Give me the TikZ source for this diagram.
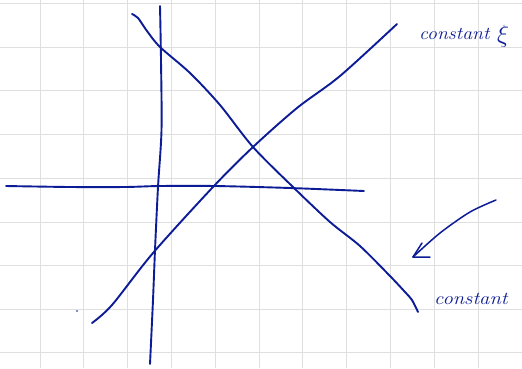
\documentclass[tikz,border=0pt]{standalone}
\begin{document}
\begin{tikzpicture}[x=1pt,y=-1pt,
  ink/.style={draw=inkblue,line width=1.9pt,line cap=round,line join=round},
  gridline/.style={draw=gray!25,line width=0.9pt},
  hand/.style={text=inkblue,font=\fontsize{18}{18}\selectfont\itshape,inner sep=0pt}]
\definecolor{inkblue}{RGB}{12,28,150}
\useasboundingbox (0,0) rectangle (522,368);
\fill[white] (0,0) rectangle (522,368);
% grid
\foreach \gx in {40,83.8,127.6,171.4,215.2,259,302.8,346.6,390.4,434.2,478}
  \draw[gridline] (\gx,0) -- (\gx,368);
\foreach \gy in {3.5,47,90.5,134,178,222,265.5,309,352.5}
  \draw[gridline] (0,\gy) -- (522,\gy);
% vertical stroke
\draw[ink] plot[smooth] coordinates {(160,6) (161,60) (161.5,130) (158,187) (155,250) (153,300) (150,364)};
% horizontal stroke
\draw[ink] plot[smooth] coordinates {(6,186) (70,187) (125,187) (160,186) (215,186) (290,188) (364,191)};
% decreasing curve
\draw[ink] plot[smooth] coordinates {(132,14) (138,18) (147,31) (160,47) (190,73) (220,105) (253,147) (293,187) (330,222) (360,246) (390,276) (405,292) (412,300) (418,312)};
% increasing curve
\draw[ink] plot[smooth] coordinates {(92,323) (112,305) (153,253) (213,187) (253,147) (297,108) (340,76) (397,24)};
% dot
\fill[inkblue] (77,311) circle (0.9pt);
% arrow
\draw[ink,line width=1.5pt] plot[smooth] coordinates {(496,200) (470,212) (440,233) (413,257)};
\draw[ink,line width=1.5pt] (422,243) -- (413,257) -- (430,257);
% labels
\node[hand,anchor=base west] (lblxi) at (419,39) {\scalebox{1.1}[1]{constant}};
\node[text=inkblue,font=\fontsize{26}{26}\selectfont,inner sep=0pt,anchor=base west] (xi) at (497,42) {$\xi$};
\node[hand,anchor=base west] (lblc) at (434,304) {\scalebox{1.15}[1]{constant}};
\end{tikzpicture}
\end{document}
